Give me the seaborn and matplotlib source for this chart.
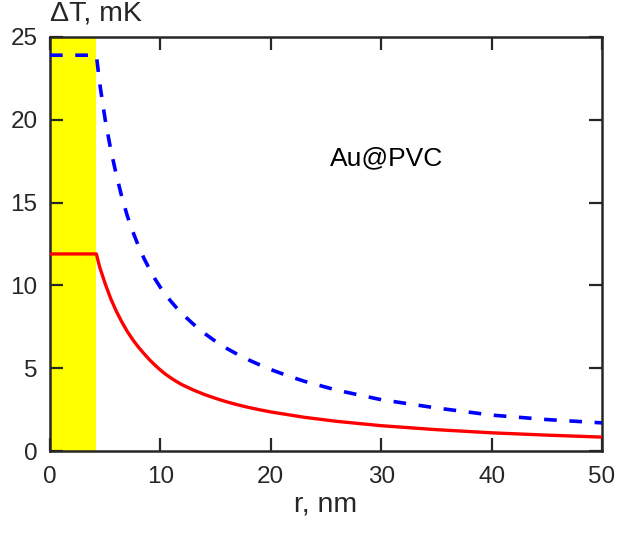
import pandas as pd
import seaborn as sns
import matplotlib.pyplot as plt

# values
r_nm = [0, 4.2, 4.5, 5, 5.5, 6, 6.5, 7, 7.5, 8, 8.5, 9, 9.5, 10, 10.5, 11, 11.5, 12, 13,
        14, 15, 16, 17, 18, 19, 20, 21.5, 23, 26, 30, 35, 40, 45, 50]
dT_red = [11.9, 11.9, 11.1, 10.1, 9.2, 8.45, 7.8, 7.22, 6.72, 6.28, 5.89, 5.52, 5.19, 4.89,
          4.62, 4.39, 4.18, 3.99, 3.68, 3.41, 3.18, 2.97, 2.79, 2.63, 2.49, 2.36, 2.2,
          2.04, 1.79, 1.53, 1.29, 1.1, 0.96, 0.84]
dT_blue = [23.9, 23.9, 22.2, 20.0, 18.2, 16.7, 15.35, 14.2, 13.25, 12.4, 11.65, 11.0, 10.4,
           9.88, 9.42, 9.0, 8.62, 8.27, 7.65, 7.1, 6.62, 6.2, 5.83, 5.5, 5.2, 4.92, 4.55,
           4.22, 3.67, 3.1, 2.6, 2.17, 1.9, 1.7]
core_edge = 4.2
x_ticks = [0, 10, 20, 30, 40, 50]
y_ticks = [0, 5, 10, 15, 20, 25]

df = pd.DataFrame({'r': r_nm, 'red': dT_red, 'blue': dT_blue})

sns.set_style('ticks')
plt.rcParams['font.family'] = ['Liberation Sans', 'DejaVu Sans']

fig = plt.figure(figsize=(6.19, 5.33), dpi=100)
ax = fig.add_axes([0.0808, 0.1538, 0.8917, 0.7768])

# nanoparticle core region
ax.axvspan(0, core_edge, color='#ffff00', zorder=0, lw=0)

sns.lineplot(data=df, x='r', y='blue', ax=ax, color='#0000ff', lw=2.6, zorder=3)
ax.lines[-1].set_dashes([3.5, 3.5])
sns.lineplot(data=df, x='r', y='red', ax=ax, color='#ff0000', lw=2.4, zorder=3)

ax.set_xlim(0, 50)
ax.set_ylim(0, 25)
ax.set_xticks(x_ticks)
ax.set_yticks(y_ticks)
ax.tick_params(direction='in', length=9.5, width=1.6, labelsize=17.5,
               top=True, right=True, colors='#262626')
ax.tick_params(axis='x', pad=11)
ax.tick_params(axis='y', pad=9)
for s in ax.spines.values():
    s.set_linewidth(1.8)
    s.set_color('#262626')

ax.set_xlabel('r, nm', fontsize=20.5, color='#262626', labelpad=2)
ax.set_ylabel('')
ax.text(0, 1.025, '\u0394T, mK', transform=ax.transAxes, ha='left', va='bottom',
        fontsize=20.5, color='#262626')
ax.text(30.5, 17.65, 'Au@PVC', ha='center', va='center', fontsize=19, color='black')

fig.savefig('out.png', dpi=100)
